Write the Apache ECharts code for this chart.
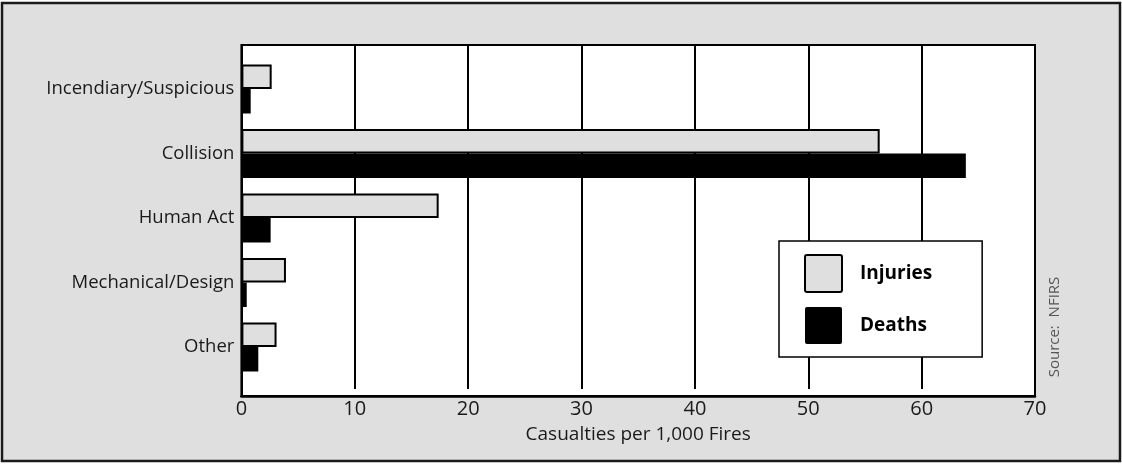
<!DOCTYPE html>
<html>
<head>
<meta charset="utf-8">
<script src="https://cdn.jsdelivr.net/npm/echarts@6/dist/echarts.min.js"></script>
<style>
html,body{margin:0;padding:0;background:#fff;}
#chart{width:1122px;height:464px;}
</style>
</head>
<body>
<div id="chart"></div>
<script>
var categories = ['Incendiary/Suspicious', 'Collision', 'Human Act', 'Mechanical/Design', 'Other'];
var injuries = [2.67, 56.3, 17.4, 3.93, 3.1];
var deaths = [0.82, 63.9, 2.58, 0.47, 1.49];
var xTicks = [0, 10, 20, 30, 40, 50, 60, 70];
var xTitle = 'Casualties per 1,000 Fires';
var sourceText = 'Source:  NFIRS';

var FONT = '"Open Sans", sans-serif';
var chart = echarts.init(document.getElementById('chart'));
var L = 241.4, R = 87;
var option = {
  backgroundColor: '#fff',
  animation: false,
  graphic: [
    { type: 'rect', z: -100, silent: true,
      shape: { x: 2, y: 3, width: 1118, height: 458 },
      style: { fill: '#dfdfdf', stroke: '#1a1a1a', lineWidth: 2.5 } },
    { type: 'text', x: 1055, y: 327, rotation: Math.PI / 2,
      style: { text: sourceText, font: '15px ' + FONT, fill: '#555', align: 'center', verticalAlign: 'middle' } }
  ],
  grid: [
    { left: L, right: R, top: 45, bottom: 68, show: true, backgroundColor: '#fff', borderColor: '#000', borderWidth: 2 },
    { left: L, right: R, top: 45, bottom: 75 },
    { left: L, right: R, top: 56.75, bottom: 84.75 }
  ],
  xAxis: [
    { gridIndex: 0, type: 'value', min: 0, max: 70, interval: 10,
      axisLine: { show: true, lineStyle: { color: '#000', width: 2.5 } },
      axisTick: { show: false }, splitLine: { show: false },
      axisLabel: { margin: 3, color: '#1a1a1a', fontSize: 20, fontFamily: FONT,
        formatter: function (v) { return xTicks.indexOf(v) >= 0 ? String(v) : ''; } },
      name: xTitle, nameLocation: 'middle', nameGap: 29,
      nameTextStyle: { color: '#1a1a1a', fontSize: 19, fontFamily: FONT } },
    { gridIndex: 1, type: 'value', min: 0, max: 70, interval: 10,
      axisLine: { show: false }, axisTick: { show: false }, axisLabel: { show: false },
      splitLine: { show: true, lineStyle: { color: '#000', width: 2 } } },
    { gridIndex: 2, type: 'value', min: 0, max: 70, show: false }
  ],
  yAxis: [
    { gridIndex: 0, type: 'category', data: categories, offset: 3,
      axisLine: { show: true, lineStyle: { color: '#000', width: 2 } },
      axisTick: { show: false }, axisLabel: { show: false }, splitLine: { show: false } },
    { gridIndex: 1, type: 'value', show: false },
    { gridIndex: 2, type: 'category', data: categories, inverse: true,
      axisLine: { show: true, lineStyle: { color: '#000', width: 2 } },
      axisTick: { show: false },
      axisLabel: { margin: 7, color: '#1a1a1a', fontSize: 18.5, fontFamily: FONT } }
  ],
  legend: {
    orient: 'vertical', left: 779, top: 241,
    padding: [13, 50, 13, 25], itemWidth: 37, itemHeight: 37, itemGap: 14,
    icon: 'path://M2,0 L35,0 Q37,0 37,2 L37,35 Q37,37 35,37 L2,37 Q0,37 0,35 L0,2 Q0,0 2,0 Z',
    backgroundColor: '#fff', borderColor: '#000', borderWidth: 1.5,
    textStyle: { fontFamily: FONT, fontWeight: 'bold', fontSize: 19, color: '#000', padding: [0, 0, 0, 13] },
    data: [
      { name: 'Injuries', textStyle: { padding: [9, 0, 0, 13] } },
      { name: 'Deaths' }
    ]
  },
  series: [
    { name: 'Injuries', type: 'bar', xAxisIndex: 2, yAxisIndex: 2, data: injuries,
      barWidth: 24.5, barGap: '0%',
      itemStyle: { color: '#dfdfdf', borderColor: '#000', borderWidth: 2 } },
    { name: 'Deaths', type: 'bar', xAxisIndex: 2, yAxisIndex: 2, data: deaths,
      barWidth: 24.5, barGap: '0%',
      itemStyle: { color: '#000', borderColor: '#000', borderWidth: 0 } }
  ]
};
chart.setOption(option);
</script>
</body>
</html>
